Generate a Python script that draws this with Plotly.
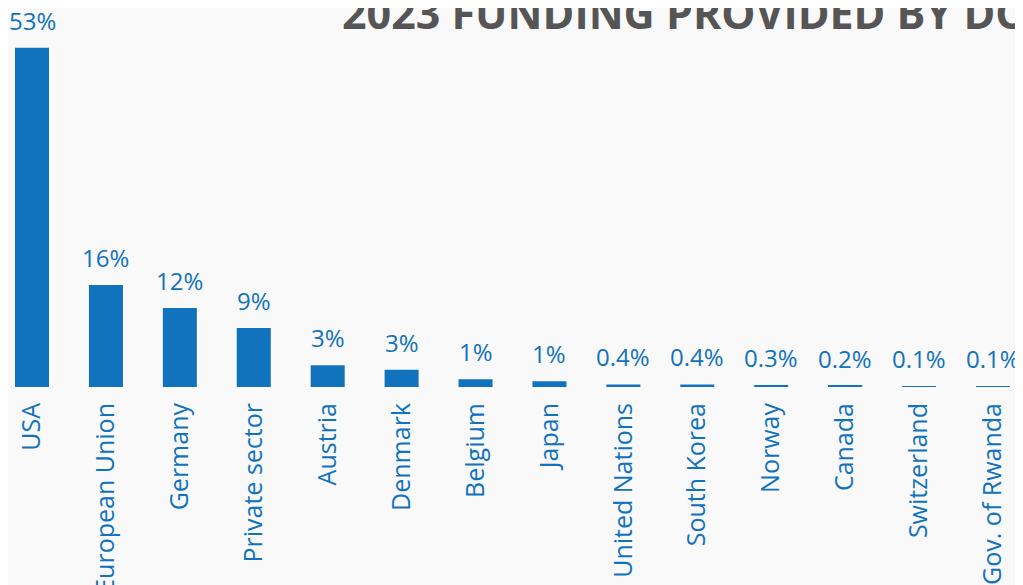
import plotly.graph_objects as go

donors = ["USA", "European Union", "Germany", "Private sector", "Austria", "Denmark",
          "Belgium", "Japan", "United Nations", "South Korea", "Norway", "Canada",
          "Switzerland", "Gov. of Rwanda"]
shares = [52.9, 15.9, 12.3, 9.2, 3.4, 2.7, 1.2, 0.9, 0.4, 0.4, 0.3, 0.2, 0.1, 0.1]
share_labels = ["53%", "16%", "12%", "9%", "3%", "3%", "1%", "1%", "0.4%", "0.4%",
                "0.3%", "0.2%", "0.1%", "0.1%"]
title_text = "2023 FUNDING PROVIDED BY DONORS"

BLUE = "#1172BD"
BG = "#F9F9F9"

fig = go.Figure(go.Bar(x=donors, y=shares, marker=dict(color=BLUE, line=dict(width=0)),
                       width=0.46, hoverinfo="skip"))

for d, v, t in zip(donors, shares, share_labels):
    fig.add_annotation(x=d, y=v, text=t, showarrow=False, yanchor="bottom", yshift=9,
                       font=dict(family="Open Sans", size=24, color=BLUE))

fig.add_annotation(xref="paper", yref="paper", x=332 / 1015, y=1, xanchor="left",
                   yanchor="middle", yshift=-4, text=title_text, showarrow=False,
                   font=dict(family="Open Sans", size=43, color="#555555", weight=700))

fig.update_layout(
    width=1015, height=577,
    margin=dict(l=0, r=0, t=0, b=198),
    paper_bgcolor=BG, plot_bgcolor=BG,
    showlegend=False,
    xaxis=dict(type="category", range=[-0.3247, 13.406], tickangle=-90,
               tickfont=dict(family="Open Sans", size=25, color=BLUE),
               showgrid=False, zeroline=False, showline=False, ticks="",
               ticklabelstandoff=10, automargin=False),
    yaxis=dict(range=[0, 59.1], visible=False, showgrid=False, zeroline=False,
               automargin=False),
)

fig.write_html("out.html")
